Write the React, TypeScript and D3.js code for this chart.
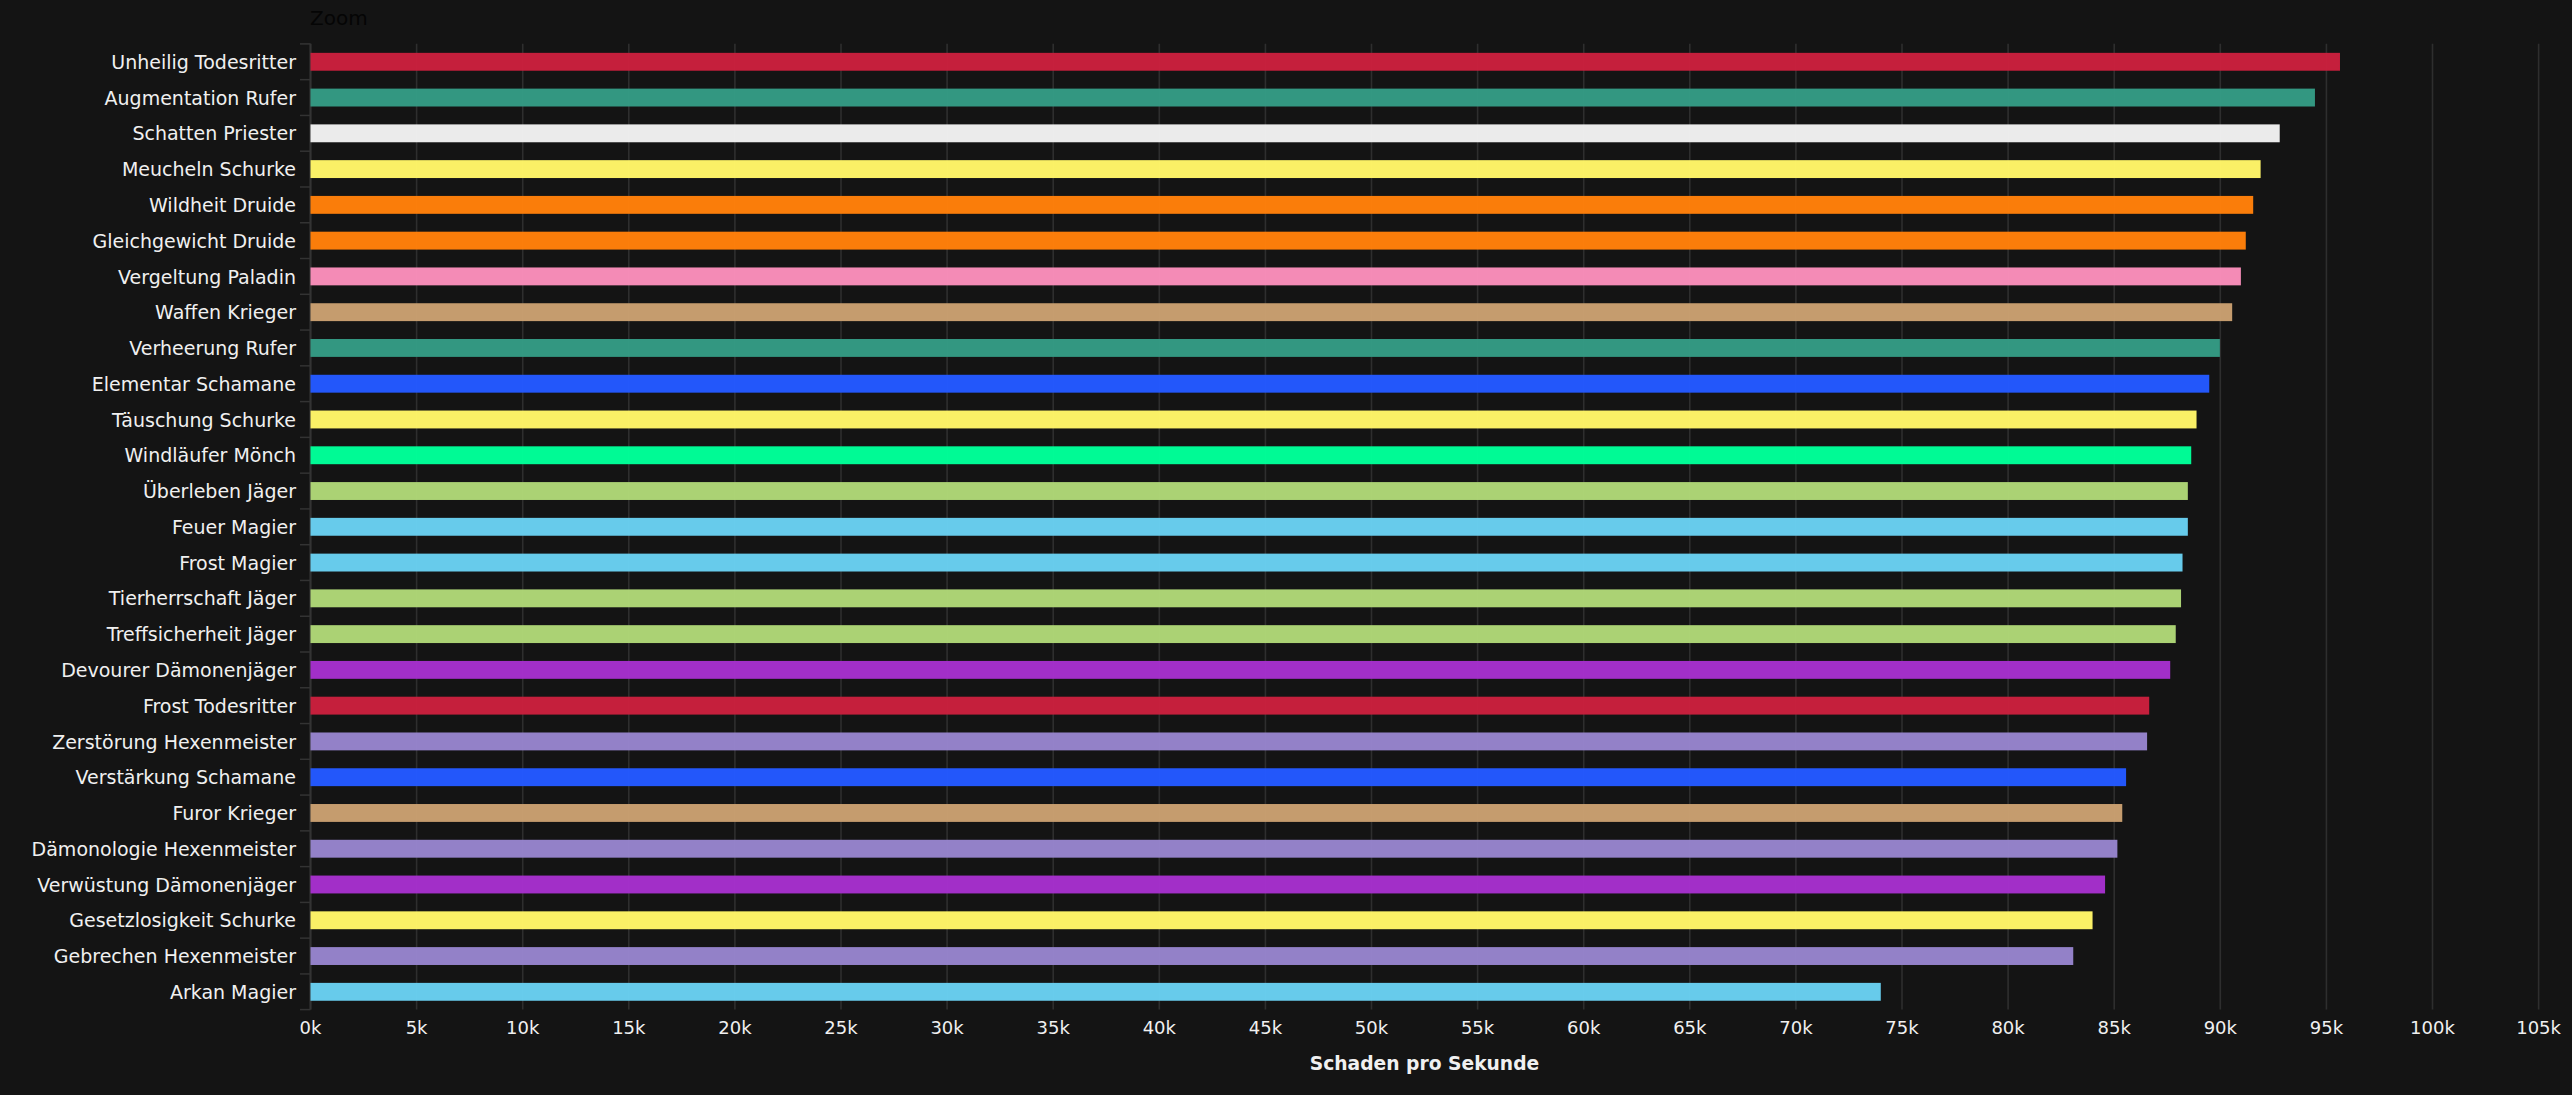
import React from 'react';
import * as d3 from 'd3';

const specs = [
  'Unheilig Todesritter', 'Augmentation Rufer', 'Schatten Priester', 'Meucheln Schurke', 'Wildheit Druide',
  'Gleichgewicht Druide', 'Vergeltung Paladin', 'Waffen Krieger', 'Verheerung Rufer', 'Elementar Schamane',
  'Täuschung Schurke', 'Windläufer Mönch', 'Überleben Jäger', 'Feuer Magier', 'Frost Magier',
  'Tierherrschaft Jäger', 'Treffsicherheit Jäger', 'Devourer Dämonenjäger', 'Frost Todesritter', 'Zerstörung Hexenmeister',
  'Verstärkung Schamane', 'Furor Krieger', 'Dämonologie Hexenmeister', 'Verwüstung Dämonenjäger', 'Gesetzlosigkeit Schurke',
  'Gebrechen Hexenmeister', 'Arkan Magier',
];

const dps = [
  95640, 94460, 92800, 91900, 91550,
  91200, 90970, 90560, 89980, 89480,
  88880, 88630, 88470, 88470, 88220,
  88150, 87900, 87640, 86650, 86550,
  85560, 85380, 85150, 84570, 83980,
  83070, 74000,
];

const classNames = [
  'dk', 'evoker', 'priest', 'rogue', 'druid',
  'druid', 'paladin', 'warrior', 'evoker', 'shaman',
  'rogue', 'monk', 'hunter', 'mage', 'mage',
  'hunter', 'hunter', 'dh', 'dk', 'warlock',
  'shaman', 'warrior', 'warlock', 'dh', 'rogue',
  'warlock', 'mage',
];

const classColors: Record<string, string> = {
  dk: '#c9203d',
  evoker: '#349a84',
  priest: '#f0f0f0',
  rogue: '#fff568',
  druid: '#ff800a',
  paladin: '#f98eba',
  warrior: '#c99f70',
  shaman: '#2459ff',
  monk: '#00ff98',
  hunter: '#aed676',
  mage: '#69cff0',
  dh: '#a530cc',
  warlock: '#9684cc',
};

const xTicks = d3.range(0, 105001, 5000);

const WIDTH = 2572;
const HEIGHT = 1095;
const FONT = '"DejaVu Sans", sans-serif';

export default function App() {
  const x = d3.scaleLinear().domain([0, 105000]).range([310.5, 2538.6]);
  const y = d3.scaleBand<string>()
    .domain(specs)
    .range([43.9, 1009.7])
    .paddingInner(0.5)
    .paddingOuter(0.25);
  const step = y.step();
  const top = y.range()[0];

  return (
    <svg
      width={WIDTH}
      height={HEIGHT}
      style={{ position: 'absolute', left: 0, top: 0, display: 'block', background: '#141414' }}
      fontFamily={FONT}
    >
      <rect width={WIDTH} height={HEIGHT} fill="#141414" />
      <text x={310} y={25} fontSize={20} fill="#050505">Zoom</text>

      {xTicks.map(t => (
        <line key={t} x1={x(t)} x2={x(t)} y1={43.8} y2={1009.6} stroke="#2e2e2e" strokeWidth={1.6} />
      ))}

      {specs.map((_, i) => (
        <line key={i} x1={300} x2={310.5} y1={top + i * step} y2={top + i * step} stroke="#333333" strokeWidth={1.5} />
      ))}
      <line x1={300} x2={310.5} y1={1009.6} y2={1009.6} stroke="#333333" strokeWidth={1.5} />
      <line x1={310.5} x2={310.5} y1={43.8} y2={1009.6} stroke="#333333" strokeWidth={2} />

      {specs.map((s, i) => (
        <rect
          key={s}
          x={x(0)}
          y={y(s)}
          width={x(dps[i]) - x(0)}
          height={y.bandwidth()}
          fill={classColors[classNames[i]]}
          fillOpacity={0.98}
        />
      ))}

      {specs.map(s => (
        <text
          key={s}
          x={296}
          y={(y(s) as number) + y.bandwidth() / 2 + 0.5}
          dy="0.35em"
          textAnchor="end"
          fontSize={19}
          fill="#f0f0f0"
        >
          {s}
        </text>
      ))}

      {xTicks.map(t => (
        <text key={t} x={x(t)} y={1034} textAnchor="middle" fontSize={18} fill="#f0f0f0">
          {`${t / 1000}k`}
        </text>
      ))}

      <text x={1424.5} y={1069.5} textAnchor="middle" fontSize={18.7} fontWeight="bold" fill="#f0f0f0">
        Schaden pro Sekunde
      </text>
    </svg>
  );
}
